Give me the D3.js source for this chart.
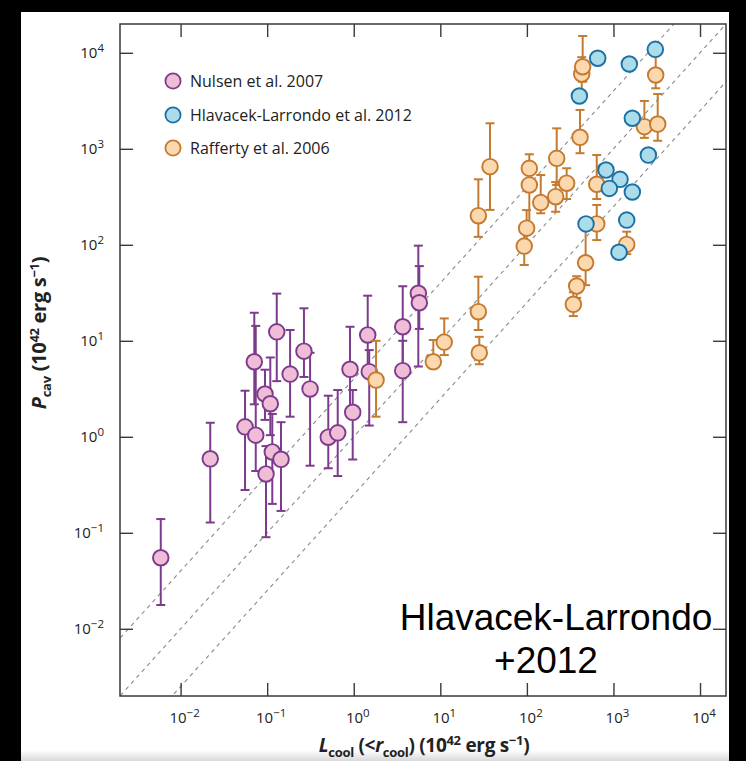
<!DOCTYPE html>
<html>
<head>
<meta charset="utf-8">
<script src="https://cdn.jsdelivr.net/npm/d3@7"></script>
<style>
  body { margin: 0; background: #000; }
  svg { display: block; }
</style>
</head>
<body>
<svg id="chart" width="746" height="761"></svg>
<script>
// Decade exponents used for tick marks on both axes
const xTickExp = [-2, -1, 0, 1, 2, 3, 4];
const yTickExp = [-2, -1, 0, 1, 2, 3, 4];

// Nulsen et al. 2007: cooling luminosity, cavity power and its error range (1e42 erg/s)
const nulsenL  = [0.0059, 0.022, 0.0555, 0.0738, 0.071, 0.0944, 0.1087, 0.097, 0.1146, 0.1445, 0.129, 0.184, 0.266, 0.313, 0.508, 0.653, 0.906, 0.973, 1.45, 1.51, 3.68, 3.68, 5.57, 5.72];
const nulsenP  = [0.055, 0.59, 1.27, 1.04, 6.05, 2.79, 2.21, 0.41, 0.695, 0.583, 12.4, 4.5, 7.8, 3.15, 0.99, 1.10, 5.05, 1.80, 11.5, 4.77, 14.0, 4.89, 31.3, 24.9];
const nulsenLo = [0.0177, 0.128, 0.279, 0.44, 2.18, 1.5, 1.04, 0.09, 0.2, 0.169, 3.8, 1.62, 4.2, 0.50, 0.47, 0.39, 1.81, 0.58, 4.8, 1.31, 5.0, 1.42, 5.4, 13.3];
const nulsenHi = [0.139, 1.40, 3.02, 14.3, 19.6, 5.0, 6.7, 0.8, 1.73, 1.42, 31, 12.95, 21.8, 7.5, 2.68, 3.07, 14.0, 3.07, 29.5, 8.0, 37, 10, 98, 60];

// Rafferty et al. 2006
const raffertyL  = [1.81, 8.3, 11.1, 27.5, 28.2, 27.5, 37.5, 93.2, 99.3, 106.7, 106.7, 144.5, 215, 221, 288, 344, 376, 477, 411, 430, 441, 641, 641, 1423, 2276, 3245, 3076];
const raffertyP  = [3.9, 6.05, 9.7, 20.1, 7.5, 201, 652, 97, 149, 420, 626, 275, 317, 796, 438, 24.0, 37.2, 65, 1318, 6010, 7160, 427, 165, 101, 1700, 1811, 5870];
const raffertyLo = [1.62, 5.2, 7.1, 12.96, 5.7, 121, 231, 61.6, 100, 155, 420, 213, 221, 420, 300, 18.1, 28, 38, 900, 4000, 5000, 300, 112, 80, 1300, 1213, 4270];
const raffertyHi = [10.0, 10.2, 17.1, 46.5, 11, 481, 1845, 150, 230, 620, 877, 533, 450, 1633, 627, 32, 47, 165, 2540, 9000, 14960, 861, 260, 137, 3150, 3720, 10000];

// Hlavacek-Larrondo et al. 2012
const hlavacekL = [658, 1525, 3045, 404, 1652, 2530, 820, 1191, 896, 1652, 482, 1423, 1159];
const hlavacekP = [8770, 7640, 10860, 3550, 2080, 861, 601, 481, 387, 355, 165, 181, 83.6];

// Reference relations P_cav = k * L_cool
const ratioLines = [4, 1, 0.25];

const legendLabels = ["Nulsen et al. 2007", "Hlavacek-Larrondo et al. 2012", "Rafferty et al. 2006"];

const styles = {
  nulsen:   { fill: "#f0bdd6", stroke: "#7d3b8d" },
  hlavacek: { fill: "#abdcea", stroke: "#1b70a6" },
  rafferty: { fill: "#fcd8ae", stroke: "#c47a2f" }
};

const W = 746, H = 761;
const plot = { left: 120, right: 726, top: 24, bottom: 696 };
const svg = d3.select("#chart");

// page background with dark edges
svg.append("rect").attr("width", W).attr("height", H).attr("fill", "#000");
const defs = svg.append("defs");
const grad = defs.append("linearGradient").attr("id", "fade").attr("x1", 0).attr("y1", 0).attr("x2", 0).attr("y2", 1);
grad.append("stop").attr("offset", "0%").attr("stop-color", "#ffffff");
grad.append("stop").attr("offset", "100%").attr("stop-color", "#d9d9d9");
svg.append("rect").attr("x", 21).attr("y", 12).attr("width", 708).attr("height", H - 12).attr("fill", "#fff");
svg.append("rect").attr("x", 21).attr("y", 750).attr("width", 708).attr("height", H - 750).attr("fill", "url(#fade)");

const x = d3.scaleLog().domain([10 ** -2.7, 10 ** 4.3]).range([plot.left, plot.right]);
const y = d3.scaleLog().domain([10 ** -2.7, 10 ** 4.3]).range([plot.bottom, plot.top]);

defs.append("clipPath").attr("id", "plotClip").append("rect")
  .attr("x", plot.left).attr("y", plot.top)
  .attr("width", plot.right - plot.left).attr("height", plot.bottom - plot.top);

// dashed reference lines
const lineGen = d3.line().x(d => x(d[0])).y(d => y(d[1]));
const gLines = svg.append("g").attr("clip-path", "url(#plotClip)");
ratioLines.forEach(k => {
  const pts = [[10 ** -3.5, k * 10 ** -3.5], [10 ** 5, k * 10 ** 5]];
  gLines.append("path").attr("d", lineGen(pts))
    .attr("fill", "none").attr("stroke", "#8a8a8a").attr("stroke-width", 1.1)
    .attr("stroke-dasharray", "4,4");
});

// inward ticks on all four sides
const tickLen = 13;
const axes = [
  [d3.axisBottom(x).tickValues(xTickExp.map(e => 10 ** e)), `translate(0,${plot.bottom})`],
  [d3.axisTop(x).tickValues(xTickExp.map(e => 10 ** e)), `translate(0,${plot.top})`],
  [d3.axisLeft(y).tickValues(yTickExp.map(e => 10 ** e)), `translate(${plot.left},0)`],
  [d3.axisRight(y).tickValues(yTickExp.map(e => 10 ** e)), `translate(${plot.right},0)`]
];
axes.forEach(([ax, tr]) => {
  const g = svg.append("g").attr("transform", tr)
    .call(ax.tickSizeInner(-tickLen).tickSizeOuter(0).tickFormat(""));
  g.select(".domain").remove();
  g.selectAll(".tick line").attr("stroke", "#3a3a3a").attr("stroke-width", 1.4);
});

svg.append("rect")
  .attr("x", plot.left).attr("y", plot.top)
  .attr("width", plot.right - plot.left).attr("height", plot.bottom - plot.top)
  .attr("fill", "none").attr("stroke", "#3a3a3a").attr("stroke-width", 1.5);

// tick labels with superscript exponents
const tickFont = "'Open Sans', 'Noto Sans', sans-serif";
function powerLabel(sel, e) {
  sel.append("tspan").text("10");
  sel.append("tspan").attr("font-size", 11.5).attr("dy", -6.5)
    .text(e < 0 ? "\u2212" + Math.abs(e) : String(e));
}
xTickExp.forEach(e => {
  const t = svg.append("text").attr("x", x(10 ** e) + 4).attr("y", 723)
    .attr("text-anchor", "middle").attr("font-family", tickFont)
    .attr("font-size", 15).attr("fill", "#222");
  powerLabel(t, e);
});
yTickExp.forEach(e => {
  const t = svg.append("text").attr("x", 104).attr("y", y(10 ** e) + 5.5)
    .attr("text-anchor", "end").attr("font-family", tickFont)
    .attr("font-size", 15).attr("fill", "#222");
  powerLabel(t, e);
});

// axis titles
const titleSize = 19, subSize = 13;
const xt = svg.append("text").attr("x", 424).attr("y", 752).attr("text-anchor", "middle")
  .attr("font-family", tickFont).attr("font-weight", "bold").attr("font-size", titleSize).attr("fill", "#222")
  .attr("letter-spacing", -0.3);
xt.append("tspan").attr("font-style", "italic").text("L");
xt.append("tspan").attr("font-size", subSize).attr("dy", 5).text("cool");
xt.append("tspan").attr("dy", -5).text(" (<");
xt.append("tspan").attr("font-style", "italic").text("r");
xt.append("tspan").attr("font-size", subSize).attr("dy", 5).text("cool");
xt.append("tspan").attr("dy", -5).text(") (10");
xt.append("tspan").attr("font-size", subSize).attr("dy", -7).text("42");
xt.append("tspan").attr("dy", 7).text(" erg s");
xt.append("tspan").attr("font-size", subSize).attr("dy", -7).text("\u22121");
xt.append("tspan").attr("dy", 7).text(")");

const yt = svg.append("text").attr("transform", "translate(46,333) rotate(-90)").attr("text-anchor", "middle")
  .attr("font-family", tickFont).attr("font-weight", "bold").attr("font-size", titleSize + 1).attr("fill", "#222")
  .attr("letter-spacing", -0.3);
yt.append("tspan").attr("font-style", "italic").text("P");
yt.append("tspan").attr("font-size", subSize).attr("dy", 5).text("cav");
yt.append("tspan").attr("dy", -5).text(" (10");
yt.append("tspan").attr("font-size", subSize).attr("dy", -7).text("42");
yt.append("tspan").attr("dy", 7).text(" erg s");
yt.append("tspan").attr("font-size", subSize).attr("dy", -7).text("\u22121");
yt.append("tspan").attr("dy", 7).text(")");

// data series
const R = 7.8, cap = 4.5;
function drawSeries(L, P, lo, hi, st) {
  const g = svg.append("g");
  const rows = L.map((d, i) => ({ L: d, P: P[i], lo: lo ? lo[i] : null, hi: hi ? hi[i] : null }));
  if (lo) {
    const eb = g.append("g").attr("stroke", st.stroke).attr("stroke-width", 2).attr("fill", "none");
    rows.forEach(r => {
      const cx = x(r.L);
      eb.append("line").attr("x1", cx).attr("x2", cx).attr("y1", y(r.lo)).attr("y2", y(r.hi));
      eb.append("line").attr("x1", cx - cap).attr("x2", cx + cap).attr("y1", y(r.lo)).attr("y2", y(r.lo));
      eb.append("line").attr("x1", cx - cap).attr("x2", cx + cap).attr("y1", y(r.hi)).attr("y2", y(r.hi));
    });
  }
  g.selectAll("circle").data(rows).join("circle")
    .attr("cx", d => x(d.L)).attr("cy", d => y(d.P)).attr("r", R)
    .attr("fill", st.fill).attr("stroke", st.stroke).attr("stroke-width", 1.9);
}
drawSeries(nulsenL, nulsenP, nulsenLo, nulsenHi, styles.nulsen);
drawSeries(raffertyL, raffertyP, raffertyLo, raffertyHi, styles.rafferty);
drawSeries(hlavacekL, hlavacekP, null, null, styles.hlavacek);

// legend
const legendStyles = [styles.nulsen, styles.hlavacek, styles.rafferty];
const legendY = [81, 115, 148];
legendLabels.forEach((lab, i) => {
  svg.append("circle").attr("cx", 173).attr("cy", legendY[i]).attr("r", 7.6)
    .attr("fill", legendStyles[i].fill).attr("stroke", legendStyles[i].stroke).attr("stroke-width", 1.8);
  svg.append("text").attr("x", 190).attr("y", legendY[i] + 5.5)
    .attr("font-family", tickFont).attr("font-size", 16).attr("fill", "#222").text(lab);
});

// citation note
const noteFont = "'Liberation Sans', Arial, sans-serif";
svg.append("text").attr("x", 556).attr("y", 630).attr("text-anchor", "middle")
  .attr("font-family", noteFont).attr("font-size", 37).attr("fill", "#000").text("Hlavacek-Larrondo");
svg.append("text").attr("x", 546).attr("y", 673).attr("text-anchor", "middle")
  .attr("font-family", noteFont).attr("font-size", 37).attr("fill", "#000").text("+2012");
</script>
</body>
</html>
